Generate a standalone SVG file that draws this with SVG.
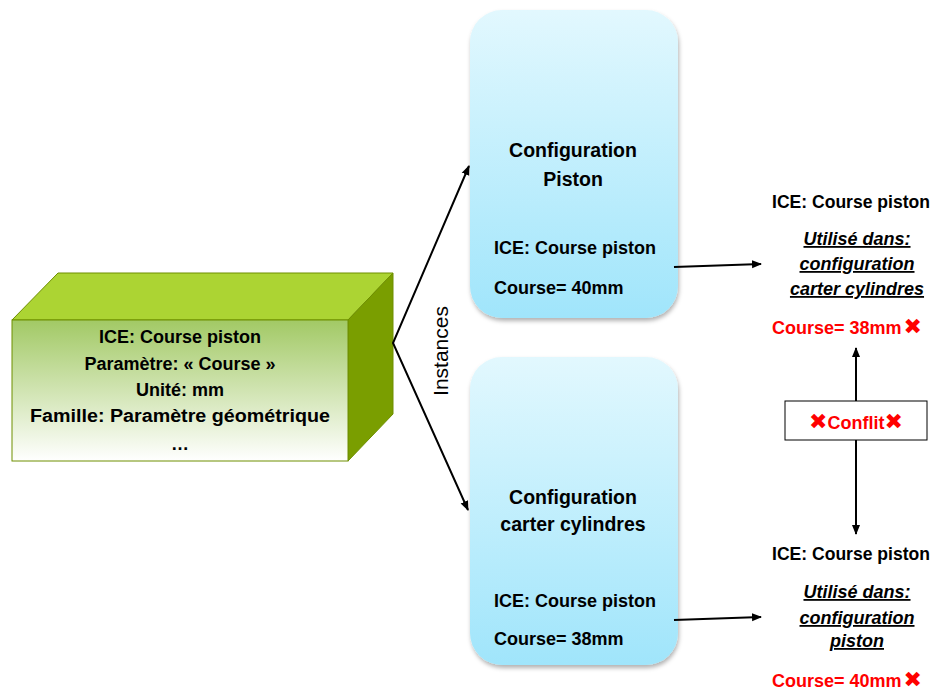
<svg xmlns="http://www.w3.org/2000/svg" width="934" height="693" viewBox="0 0 934 693">
<defs>
<linearGradient id="gFront" x1="0" y1="0" x2="0" y2="1">
<stop offset="0" stop-color="#a2c965"/>
<stop offset="1" stop-color="#ffffff"/>
</linearGradient>
<linearGradient id="gBlue" x1="0" y1="0" x2="0" y2="1">
<stop offset="0" stop-color="#e2f8fe"/>
<stop offset="1" stop-color="#a0e5fb"/>
</linearGradient>
<filter id="shadow" x="-10%" y="-10%" width="120%" height="120%">
<feDropShadow dx="1" dy="3" stdDeviation="2" flood-color="#000" flood-opacity="0.3"/>
</filter>
<marker id="arr" viewBox="0 0 10 10" refX="9" refY="5" markerWidth="10" markerHeight="10" orient="auto-start-reverse" markerUnits="userSpaceOnUse">
<path d="M0,1 L10,5 L0,9 z" fill="#000"/>
</marker>
<style>
.t{font-family:"Liberation Sans",Arial,sans-serif;font-size:18px;font-weight:bold;fill:#000;}
.c{text-anchor:middle;}
.u{font-style:italic;text-decoration:underline;}
.r{fill:#ff0000;}
.x{font-family:"DejaVu Sans",sans-serif;font-size:22px;font-weight:bold;fill:#ff0000;}
.ln{stroke:#000;stroke-width:2;fill:none;}
.box{fill:url(#gBlue);filter:url(#shadow);}
</style>
</defs>

<g id="ice-block">
<polygon points="12,320 58,273 393,273 348,320" fill="#acd433" stroke="#6f8f00" stroke-width="1"/>
<polygon points="348,320 393,273 393,414 348,461" fill="#7a9e00" stroke="#6f8f00" stroke-width="1"/>
<rect x="12" y="320" width="336" height="141" fill="url(#gFront)" stroke="#6f8f00" stroke-width="1"/>
<text class="t c" x="180" y="343">ICE: Course piston</text>
<text class="t c" x="180" y="370">Paramètre: « Course »</text>
<text class="t c" x="180" y="396">Unité: mm</text>
<text class="t c" x="180" y="422" textLength="300" lengthAdjust="spacingAndGlyphs">Famille: Paramètre géométrique</text>
<text class="t c" x="180" y="450">…</text>
</g>

<g id="config-piston">
<rect class="box" x="470" y="10" width="208" height="308" rx="32" ry="32"/>
<text class="t c" x="573" y="157" style="font-size:19.5px">Configuration</text>
<text class="t c" x="573" y="186" style="font-size:19.5px">Piston</text>
<text class="t" x="494" y="254">ICE: Course piston</text>
<text class="t" x="494" y="294">Course= 40mm</text>
</g>

<g id="config-carter">
<rect class="box" x="470" y="357" width="208" height="308" rx="32" ry="32"/>
<text class="t c" x="573" y="504" style="font-size:19.5px">Configuration</text>
<text class="t c" x="573" y="531" style="font-size:19.5px">carter cylindres</text>
<text class="t" x="494" y="607">ICE: Course piston</text>
<text class="t" x="494" y="645">Course= 38mm</text>
</g>

<g id="usage-top">
<text class="t" x="772" y="208" textLength="158" lengthAdjust="spacingAndGlyphs">ICE: Course piston</text>
<text class="t c u" x="857" y="245">Utilisé dans:</text>
<text class="t c u" x="857" y="270">configuration</text>
<text class="t c u" x="857" y="295">carter cylindres</text>
<text class="t r" x="772" y="334">Course= 38mm<tspan class="x" dx="2">✖</tspan></text>
</g>

<g id="conflit">
<rect x="785" y="401" width="142" height="39" fill="#fff" stroke="#000" stroke-width="1"/>
<text class="t c r" x="856" y="429"><tspan class="x">✖</tspan>Conflit<tspan class="x">✖</tspan></text>
</g>

<g id="usage-bottom">
<text class="t" x="772" y="560" textLength="158" lengthAdjust="spacingAndGlyphs">ICE: Course piston</text>
<text class="t c u" x="857" y="598">Utilisé dans:</text>
<text class="t c u" x="857" y="624">configuration</text>
<text class="t c u" x="857" y="647">piston</text>
<text class="t r" x="772" y="687">Course= 40mm<tspan class="x" dx="2">✖</tspan></text>
</g>

<g id="instances-label">
<text class="t" style="font-weight:normal;font-size:21px" text-anchor="middle" transform="translate(448,351) rotate(-90)">Instances</text>
</g>

<g id="connectors">
<polyline class="ln" points="469,166 393,343 468,510" marker-start="url(#arr)" marker-end="url(#arr)"/>
<line class="ln" x1="674" y1="267" x2="761" y2="264" marker-end="url(#arr)"/>
<line class="ln" x1="674" y1="620" x2="761" y2="617" marker-end="url(#arr)"/>
<line class="ln" x1="856" y1="401" x2="856" y2="348" marker-end="url(#arr)"/>
<line class="ln" x1="856" y1="440" x2="856" y2="534" marker-end="url(#arr)"/>
</g>
</svg>
